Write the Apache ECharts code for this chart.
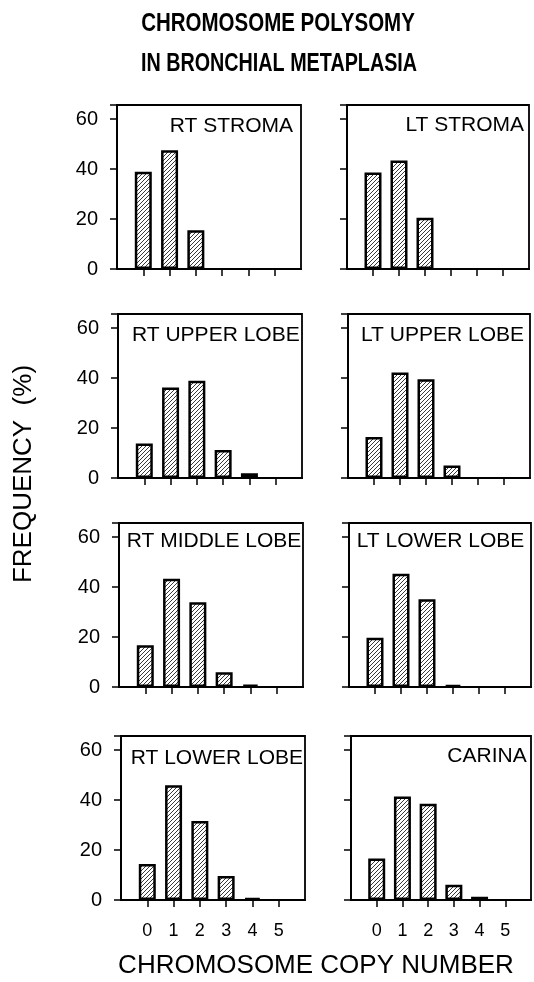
<!DOCTYPE html>
<html>
<head>
<meta charset="utf-8">
<script src="https://cdn.jsdelivr.net/npm/echarts@6/dist/echarts.min.js"></script>
<style>
html,body{margin:0;padding:0;background:#fff;}
#chart{width:534px;height:982px;}
</style>
</head>
<body>
<div id="chart"></div>
<script>
// ---- data ----
var copyNumbers = ['0', '1', '2', '3', '4', '5'];
var yTickValues = [0, 20, 40, 60];
var panelNames = ['RT STROMA', 'LT STROMA', 'RT UPPER LOBE', 'LT UPPER LOBE',
                  'RT MIDDLE LOBE', 'LT LOWER LOBE', 'RT LOWER LOBE', 'CARINA'];
var rtStroma = [38.9, 47.5, 15.5, 0, 0, 0];
var ltStroma = [38.6, 43.4, 20.5, 0, 0, 0];
var rtUpperLobe = [13.8, 36.2, 38.9, 11.2, 1.9, 0];
var ltUpperLobe = [16.4, 42.2, 39.5, 5.0, 0, 0];
var rtMiddleLobe = [16.7, 43.3, 33.9, 5.9, 1.0, 0];
var ltLowerLobe = [19.7, 45.3, 35.1, 0.9, 0, 0];
var rtLowerLobe = [14.4, 45.9, 31.6, 9.6, 0.9, 0];
var carina = [16.6, 41.4, 38.5, 6.1, 1.3, 0];
var panelValues = [rtStroma, ltStroma, rtUpperLobe, ltUpperLobe,
                   rtMiddleLobe, ltLowerLobe, rtLowerLobe, carina];
var titleLine1 = 'CHROMOSOME POLYSOMY';
var titleLine2 = 'IN BRONCHIAL METAPLASIA';
var yAxisTitle = 'FREQUENCY  (%)';
var xAxisTitle = 'CHROMOSOME COPY NUMBER';

// ---- layout ----
var rowTops = [105, 314, 523, 736];
var rowHeight = 164;
var colLefts = [[117, 347], [118, 348], [119, 349], [121, 351]];
var colWidths = [184, 182];
var FONT = '"Liberation Sans", Arial, Helvetica, sans-serif';
// padded categories: an empty slot on each side of 0..5
var axisCategories = [''].concat(copyNumbers, ['']);

function makeHatch() {
  var pc = document.createElement('canvas');
  pc.width = 4; pc.height = 4;
  var pctx = pc.getContext('2d');
  pctx.fillStyle = '#fff';
  pctx.fillRect(0, 0, 4, 4);
  pctx.strokeStyle = '#222';
  pctx.lineWidth = 0.9;
  pctx.beginPath();
  pctx.moveTo(-1, 5); pctx.lineTo(5, -1);
  pctx.moveTo(-1, 1); pctx.lineTo(1, -1);
  pctx.moveTo(3, 5); pctx.lineTo(5, 3);
  pctx.stroke();
  return pc;
}

function buildOption(plainFill) {
  var fill = plainFill ? '#bbb' : {image: makeHatch(), repeat: 'repeat'};
  var grids = [], xAxes = [], yAxes = [], series = [], graphics = [];
  for (var i = 0; i < 8; i++) {
    var r = Math.floor(i / 2), c = i % 2;
    grids.push({
      left: colLefts[r][c], top: rowTops[r], width: colWidths[c], height: rowHeight,
      show: true, borderColor: '#000', borderWidth: 1.8
    });
    xAxes.push({
      gridIndex: i, type: 'category', data: axisCategories, boundaryGap: false,
      axisLine: {show: true, onZero: false, lineStyle: {color: '#000', width: 2}},
      axisTick: {show: true, inside: false, length: 7, lineStyle: {color: '#000', width: 1.5},
                 interval: function (idx, val) { return val !== ''; }},
      axisLabel: {show: r === 3, margin: 22, color: '#000', fontSize: 18, fontFamily: FONT,
                  interval: 0},
      splitLine: {show: false}
    });
    yAxes.push({
      gridIndex: i, type: 'value', min: 0, max: rowHeight / 2.5, interval: 20,
      axisLine: {show: true, onZero: false, lineStyle: {color: '#000', width: 2}},
      axisTick: {show: true, inside: false, length: 7, lineStyle: {color: '#000', width: 1.5}},
      axisLabel: {show: c === 0, margin: 19, color: '#000', fontSize: 20, fontFamily: FONT,
                  formatter: function (v) { return yTickValues.indexOf(v) >= 0 ? String(v) : ''; }},
      splitLine: {show: false}
    });
    var vals = panelValues[i];
    series.push({
      type: 'bar', xAxisIndex: i, yAxisIndex: i,
      barWidth: 17,
      data: copyNumbers.map(function (x, k) { return vals[k] > 0 ? [x, vals[k]] : [x, '-']; }),
      itemStyle: {color: fill, borderColor: '#000', borderWidth: 2.5},
      silent: true
    });
  }
  var labelSpecs = [
    {x: 293, y: 126.5, align: 'right'},
    {x: 524, y: 125.7, align: 'right'},
    {x: 132, y: 335.7, align: 'left'},
    {x: 361, y: 335, align: 'left'},
    {x: 126.7, y: 541.7, align: 'left'},
    {x: 356.7, y: 541, align: 'left'},
    {x: 130.7, y: 758.3, align: 'left'},
    {x: 526.7, y: 756.7, align: 'right'}
  ];
  labelSpecs.forEach(function (s, i) {
    graphics.push({
      type: 'text', x: s.x, y: s.y, z: 10,
      style: {text: panelNames[i], fill: '#000', font: '21px ' + FONT,
              textAlign: s.align, textVerticalAlign: 'middle'}
    });
  });
  graphics.push({type: 'text', x: 278, y: 24, scaleX: 0.82,
    style: {text: titleLine1, fill: '#000', font: 'bold 25px ' + FONT,
            textAlign: 'center', textVerticalAlign: 'middle'}});
  graphics.push({type: 'text', x: 279, y: 64, scaleX: 0.79,
    style: {text: titleLine2, fill: '#000', font: 'bold 25px ' + FONT,
            textAlign: 'center', textVerticalAlign: 'middle'}});
  graphics.push({type: 'text', x: 24, y: 474, rotation: Math.PI / 2,
    style: {text: yAxisTitle, fill: '#000', font: '26px ' + FONT,
            textAlign: 'center', textVerticalAlign: 'middle'}});
  graphics.push({type: 'text', x: 316, y: 966,
    style: {text: xAxisTitle, fill: '#000', font: '26px ' + FONT,
            textAlign: 'center', textVerticalAlign: 'middle'}});
  return {
    animation: false,
    backgroundColor: '#fff',
    grid: grids, xAxis: xAxes, yAxis: yAxes, series: series,
    graphic: graphics
  };
}

var el = document.getElementById('chart');
var chart = null;
for (var mode = 0; mode < 2; mode++) {
  try {
    if (chart) { chart.dispose(); }
    chart = echarts.init(el, null, {renderer: 'canvas'});
    chart.setOption(buildOption(mode === 1));
    break;
  } catch (e) {
    window.__lastError = String(e);
  }
}
</script>
</body>
</html>
